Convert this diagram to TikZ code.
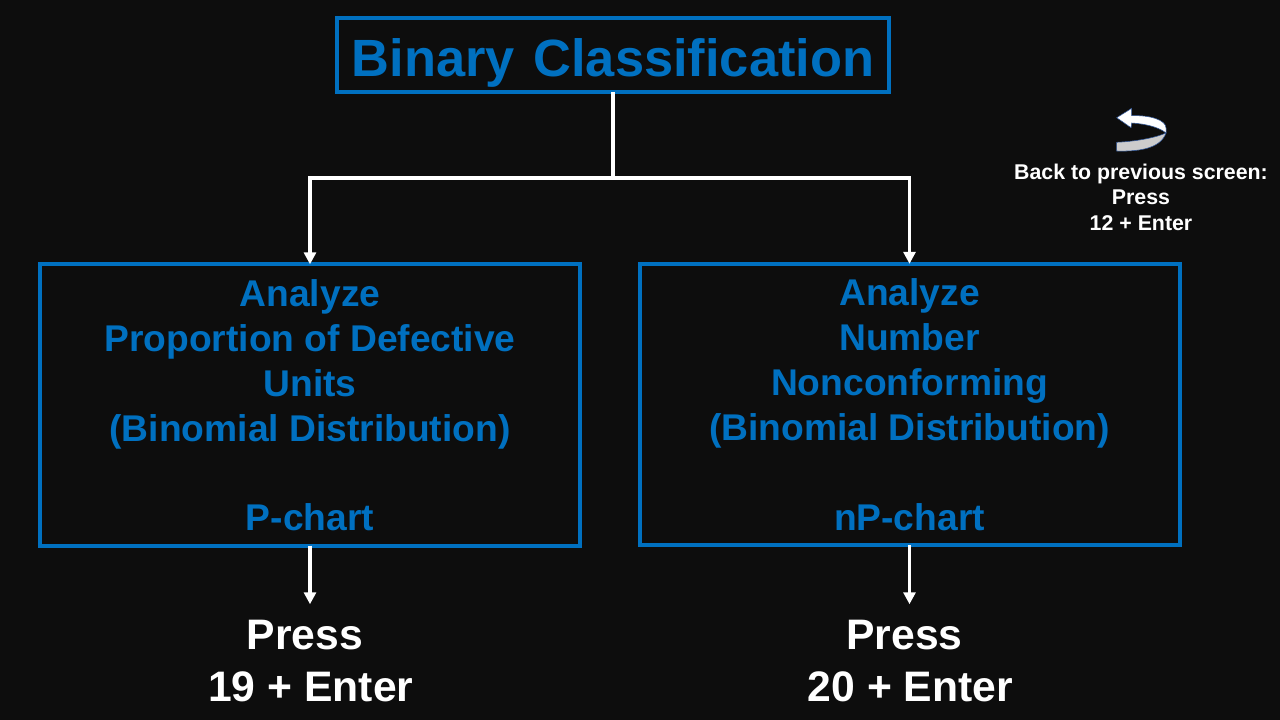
\documentclass[tikz,border=0pt]{standalone}
\usepackage{fontspec}
\setmainfont{Liberation Sans}
\usetikzlibrary{arrows.meta}
\definecolor{bgblack}{HTML}{0D0D0D}
\definecolor{boxblue}{HTML}{0070C0}
\definecolor{ribbongray}{HTML}{CCCCCC}
\definecolor{ribbonedge}{HTML}{2F5597}
\begin{document}
\begin{tikzpicture}[x=0.75pt, y=-0.75pt,
                    titlebox/.style = {draw=boxblue, line width=3pt, text=boxblue, inner sep=0pt, minimum width=414pt, minimum height=55.5pt, text height=35pt, text depth=3pt, font=\fontsize{39.3}{48}\selectfont\bfseries},
                    chartbox/.style = {draw=boxblue, line width=3pt, text=boxblue, inner sep=0pt, minimum width=405pt, minimum height=211pt, align=center, text depth=-3pt, font=\fontsize{27.9}{33.75}\selectfont\bfseries},
                    pressnode/.style = {text=white, inner sep=0pt, align=center, font=\fontsize{32}{38.4}\selectfont\bfseries},
                    backnode/.style = {text=white, inner sep=0pt, align=center, font=\fontsize{16}{19.2}\selectfont\bfseries},
                    flow/.style = {draw=white, line width=2.8pt},
                    flowtip/.style = {flow, -{Triangle[width=9pt, length=9pt]}}]
        \useasboundingbox[fill=bgblack] (0,0) rectangle (1280,720);
        \node[titlebox] (title) at (613,55) {Binary\hspace{3.2pt} Classification};
        \node[chartbox] (pbox) at (310,405) {Analyze\\Proportion of Defective\\Units\\(Binomial Distribution)\\[33.6pt]P-chart};
        \node[chartbox] (npbox) at (909.5,404.5) {Analyze\\Number\\Nonconforming\\(Binomial Distribution)\\[33.6pt]nP-chart};
        \node[pressnode] (ppress) at (310.8,661) {Press\ \mbox{}\\19 + Enter};
        \node[pressnode] (nppress) at (910.3,661) {Press\ \mbox{}\\20 + Enter};
        \node[backnode] (back) at (1141,197) {Back to previous screen:\\Press\\12 + Enter};
        \coordinate (split) at (613,178);
        \draw[flow, shorten <=-1.5pt] (title.south) -- (split);
        \draw[flowtip, shorten >=-1.5pt] (split) -- (pbox.north |- split) -- (pbox.north);
        \draw[flowtip, shorten >=-1.5pt] (split) -- (npbox.north |- split) -- (npbox.north);
        \draw[flowtip, shorten <=-1.5pt, shorten >=12pt] (pbox.south) -- (pbox.south |- ppress.north);
        \draw[flowtip, shorten <=-1.5pt, shorten >=12pt] (npbox.south) -- (npbox.south |- nppress.north);
        % back arrow
        \draw[ribbonedge, line width=0.4pt, fill=ribbongray] (1166,133) .. controls (1155,138) and (1135,141.5) .. (1116.7,142.3) -- (1116.7,151) .. controls (1135,151.5) and (1160,150) .. (1166,133) -- cycle;
        \draw[ribbonedge, line width=0.4pt, fill=white] (1116.7,117.7) -- (1131.7,108.3) -- (1131.7,115.7) .. controls (1150,115) and (1166,120) .. (1166,128) -- (1166,133) .. controls (1160,128) and (1148,124) .. (1131.7,123) -- (1131,127.7) -- cycle;
    \end{tikzpicture}
\end{document}
